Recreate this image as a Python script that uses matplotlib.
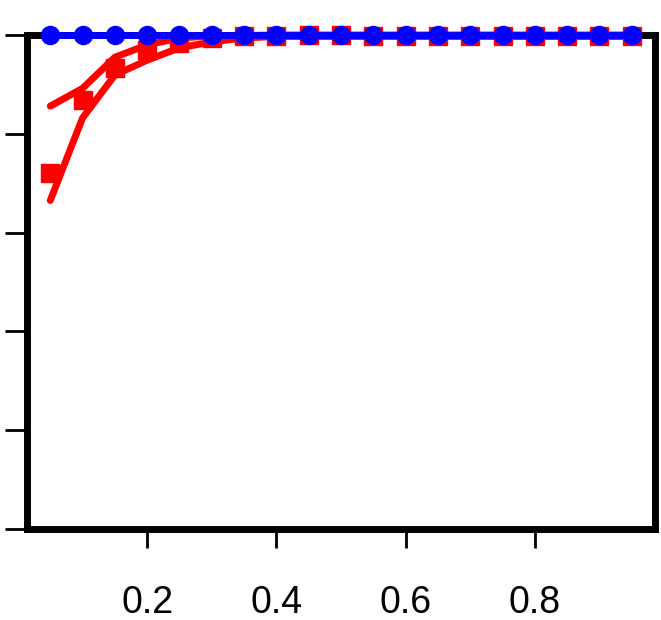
import numpy as np
import matplotlib
matplotlib.use("Agg")
import matplotlib.pyplot as plt

plt.rcParams['font.family'] = ['Liberation Sans', 'DejaVu Sans']

x = np.round(np.arange(0.05, 0.951, 0.05), 2)

# red series: mean (squares) and upper / lower bands
red_mid = [0.720, 0.868, 0.933, 0.970, 0.984, 0.993, 0.997, 0.998, 0.999, 1.000,
           0.998, 0.998, 0.998, 0.998, 0.998, 0.998, 0.998, 0.998, 0.998]
red_hi = [0.856, 0.892, 0.955, 0.980, 0.994, 0.998, 0.999, 1.000, 1.000, 1.000,
          1.000, 1.000, 1.000, 1.000, 1.000, 1.000, 1.000, 1.000, 1.000]
red_lo = [0.665, 0.832, 0.919, 0.949, 0.974, 0.986, 0.994, 0.997, 0.997, 0.997,
          0.997, 0.997, 0.997, 0.997, 0.997, 0.997, 0.997, 0.997, 0.997]
# blue series sits on 1
blue = [1.0] * 19

xticks = [0.2, 0.4, 0.6, 0.8]
yticks = [0, 0.2, 0.4, 0.6, 0.8, 1.0]

fig = plt.figure(figsize=(6.61, 6.2), dpi=100)
ax = fig.add_axes([27 / 661, 91 / 620, 628 / 661, 494 / 620])

ax.plot(x, red_hi, color='red', lw=5, solid_capstyle='round', clip_on=False)
ax.plot(x, red_lo, color='red', lw=5, solid_capstyle='round', clip_on=False)
ax.plot(x, red_mid, 's', color='red', ms=13, clip_on=False)
ax.plot(x, blue, color='blue', lw=5, clip_on=False)
ax.plot(x, blue, 'o', color='blue', ms=13, clip_on=False)

ax.set_xlim(0.014, 0.986)
ax.set_ylim(0, 1)
ax.set_xticks(xticks)
ax.set_xticklabels(["{:.1f}".format(v) for v in xticks], fontsize=27)
ax.set_yticks(yticks)
ax.set_yticklabels([])
ax.tick_params(axis='x', length=14, width=2, pad=26)
ax.tick_params(axis='y', length=16, width=2)
for s in ax.spines.values():
    s.set_linewidth(5)
    s.set_zorder(1)

fig.savefig("out.png", dpi=100)
